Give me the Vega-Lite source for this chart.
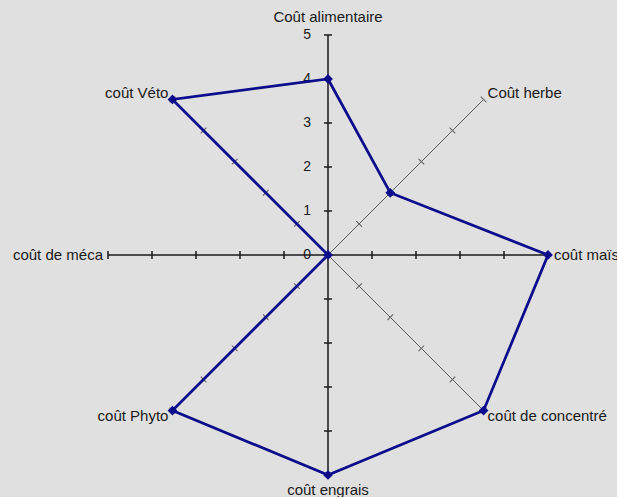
{
  "$schema": "https://vega.github.io/schema/vega-lite/v6.json",
  "width": 617,
  "height": 497,
  "autosize": {"type": "none"},
  "padding": 0,
  "background": "#e0e0e0",
  "config": {"view": {"stroke": null}},
  "data": {
    "values": [
      {"axe": "Coût alimentaire", "theta": 0, "valeur": 4, "graduations": [0, 1, 2, 3, 4, 5]},
      {"axe": "Coût herbe", "theta": 45, "valeur": 2, "graduations": [0, 1, 2, 3, 4, 5]},
      {"axe": "coût maïs", "theta": 90, "valeur": 5, "graduations": [0, 1, 2, 3, 4, 5]},
      {"axe": "coût de concentré", "theta": 135, "valeur": 5, "graduations": [0, 1, 2, 3, 4, 5]},
      {"axe": "coût engrais", "theta": 180, "valeur": 5, "graduations": [0, 1, 2, 3, 4, 5]},
      {"axe": "coût Phyto", "theta": 225, "valeur": 5, "graduations": [0, 1, 2, 3, 4, 5]},
      {"axe": "coût de méca", "theta": 270, "valeur": 0, "graduations": [0, 1, 2, 3, 4, 5]},
      {"axe": "coût Véto", "theta": 315, "valeur": 5, "graduations": [0, 1, 2, 3, 4, 5]}
    ]
  },
  "transform": [
    {"calculate": "sin(datum.theta * PI / 180)", "as": "sx"},
    {"calculate": "cos(datum.theta * PI / 180)", "as": "cy"},
    {"calculate": "datum.valeur * datum.sx", "as": "px"},
    {"calculate": "datum.valeur * datum.cy", "as": "py"},
    {"calculate": "5 * datum.sx", "as": "ex"},
    {"calculate": "5 * datum.cy", "as": "ey"},
    {"calculate": "0", "as": "zero"}
  ],
  "layer": [
    {
      "mark": {"type": "rule"},
      "encoding": {
        "x": {"field": "zero", "type": "quantitative", "scale": {"domain": [-7.4545, 6.568], "nice": false, "zero": false}, "axis": null},
        "y": {"field": "zero", "type": "quantitative", "scale": {"domain": [-5.5, 5.795], "nice": false, "zero": false}, "axis": null},
        "x2": {"field": "ex"},
        "y2": {"field": "ey"},
        "color": {
          "condition": {"test": "datum.theta % 90 == 0", "value": "#1a1a1a"},
          "value": "#5a5a5a"
        },
        "strokeWidth": {
          "condition": {"test": "datum.theta % 90 == 0", "value": 1.5},
          "value": 1
        }
      }
    },
    {
      "transform": [
        {"flatten": ["graduations"], "as": ["g"]},
        {"filter": "datum.g > 0"},
        {"calculate": "datum.g * datum.sx", "as": "gx"},
        {"calculate": "datum.g * datum.cy", "as": "gy"}
      ],
      "mark": {"type": "point", "shape": "stroke", "filled": false, "size": 64, "opacity": 1},
      "encoding": {
        "x": {"field": "gx", "type": "quantitative", "scale": {"domain": [-7.4545, 6.568], "nice": false, "zero": false}, "axis": null},
        "y": {"field": "gy", "type": "quantitative", "scale": {"domain": [-5.5, 5.795], "nice": false, "zero": false}, "axis": null},
        "angle": {"field": "theta", "type": "quantitative", "scale": null},
        "color": {
          "condition": {"test": "datum.theta % 90 == 0", "value": "#1a1a1a"},
          "value": "#5a5a5a"
        },
        "strokeWidth": {
          "condition": {"test": "datum.theta % 90 == 0", "value": 1.5},
          "value": 1
        }
      }
    },
    {
      "transform": [
        {"filter": "datum.theta == 0"},
        {"flatten": ["graduations"], "as": ["g"]}
      ],
      "mark": {"type": "text", "align": "right", "baseline": "middle", "dx": -17, "font": "Liberation Sans", "fontSize": 14, "color": "#1a1a1a"},
      "encoding": {
        "x": {"field": "zero", "type": "quantitative", "scale": {"domain": [-7.4545, 6.568], "nice": false, "zero": false}, "axis": null},
        "y": {"field": "g", "type": "quantitative", "scale": {"domain": [-5.5, 5.795], "nice": false, "zero": false}, "axis": null},
        "text": {"field": "g", "type": "quantitative"}
      }
    },
    {
      "mark": {"type": "line", "interpolate": "linear-closed", "color": "#0c0c8c", "strokeWidth": 2.75},
      "encoding": {
        "x": {"field": "px", "type": "quantitative", "scale": {"domain": [-7.4545, 6.568], "nice": false, "zero": false}, "axis": null},
        "y": {"field": "py", "type": "quantitative", "scale": {"domain": [-5.5, 5.795], "nice": false, "zero": false}, "axis": null},
        "order": {"field": "theta", "type": "quantitative"}
      }
    },
    {
      "mark": {"type": "point", "shape": "diamond", "filled": true, "size": 95, "color": "#0c0c8c", "opacity": 1},
      "encoding": {
        "x": {"field": "px", "type": "quantitative", "scale": {"domain": [-7.4545, 6.568], "nice": false, "zero": false}, "axis": null},
        "y": {"field": "py", "type": "quantitative", "scale": {"domain": [-5.5, 5.795], "nice": false, "zero": false}, "axis": null}
      }
    },
    {
      "mark": {
        "type": "text",
        "font": "Liberation Sans",
        "fontSize": 15,
        "color": "#1a1a1a",
        "baseline": "middle",
        "align": {"expr": "datum.theta % 180 == 0 ? 'center' : (datum.theta < 180 ? 'left' : 'right')"},
        "dx": {"expr": "datum.theta % 180 == 0 ? 0 : (datum.theta == 90 ? 6 : (datum.theta < 180 ? 4 : (datum.theta == 270 ? -5 : -4)))"},
        "dy": {"expr": "datum.theta == 0 ? -18 : (datum.theta == 180 ? 15 : (datum.theta % 90 == 0 ? 0 : ((datum.theta == 45 || datum.theta == 315) ? -6 : 5)))"}
      },
      "encoding": {
        "x": {"field": "ex", "type": "quantitative", "scale": {"domain": [-7.4545, 6.568], "nice": false, "zero": false}, "axis": null},
        "y": {"field": "ey", "type": "quantitative", "scale": {"domain": [-5.5, 5.795], "nice": false, "zero": false}, "axis": null},
        "text": {"field": "axe"}
      }
    }
  ]
}
